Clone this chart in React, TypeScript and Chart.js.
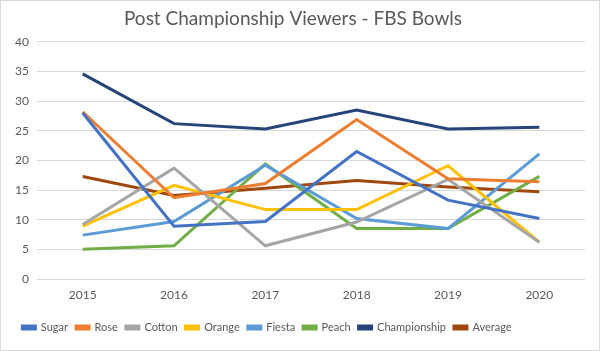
import React, { useEffect, useRef } from "react";
import { Chart, registerables } from "chart.js";

Chart.register(...registerables);

const years = ["2015", "2016", "2017", "2018", "2019", "2020"];
const sugar = [28.0, 8.9, 9.7, 21.5, 13.3, 10.2];
const rose = [28.2, 13.7, 16.1, 26.9, 16.9, 16.4];
const cotton = [9.2, 18.7, 5.6, 9.6, 16.8, 6.2];
const orange = [8.9, 15.8, 11.7, 11.7, 19.1, 6.2];
const fiesta = [7.4, 9.7, 19.2, 10.2, 8.5, 21.1];
const peach = [5.0, 5.6, 19.4, 8.5, 8.5, 17.3];
const championship = [34.6, 26.2, 25.3, 28.5, 25.3, 25.6];
const average = [17.3, 14.1, 15.3, 16.6, 15.5, 14.7];

const seriesNames = ["Sugar", "Rose", "Cotton", "Orange", "Fiesta", "Peach", "Championship", "Average"];
const seriesData = [sugar, rose, cotton, orange, fiesta, peach, championship, average];
const seriesColors = ["#4472C4", "#ED7D31", "#A5A5A5", "#FFC000", "#5B9BD5", "#70AD47", "#264478", "#9E480E"];

const legendShift = {
  id: "legendShift",
  afterLayout(chart: any) {
    if (chart.legend) {
      chart.legend.left -= 26;
      chart.legend.right -= 26;
    }
  },
};

export default function App() {
  const ref = useRef<HTMLCanvasElement>(null);
  useEffect(() => {
    document.body.style.margin = "0";
    const ctx = ref.current!;
    const chart = new Chart(ctx, {
      type: "line",
      data: {
        labels: years,
        datasets: seriesNames.map((n, i) => ({
          label: n,
          data: seriesData[i],
          borderColor: seriesColors[i],
          backgroundColor: seriesColors[i],
          borderWidth: 3,
          pointRadius: 0,
          tension: 0,
        })),
      },
      plugins: [legendShift],
      options: {
        responsive: false,
        animation: false,
        layout: { padding: { left: 0, right: 14, top: 4, bottom: 7 } },
        plugins: {
          title: {
            display: true,
            text: "Post Championship Viewers - FBS Bowls",
            color: "#595959",
            font: { family: "Lato", size: 19, weight: "normal" },
            padding: { top: 2, bottom: 12 },
          },
          legend: {
            position: "bottom",
            labels: {
              color: "#595959",
              font: { family: "Lato", size: 11 },
              boxWidth: 13,
              boxHeight: 3,
              padding: 8,
            },
          },
          tooltip: { enabled: false },
        },
        scales: {
          x: {
            offset: true,
            afterFit: (s: any) => { s.height = 35; },
            grid: { display: false, drawTicks: false },
            border: { display: false },
            ticks: { color: "#595959", font: { family: "Lato", size: 12 }, padding: 9 },
          },
          y: {
            min: 0,
            max: 40,
            afterFit: (s: any) => { s.width = 36; },
            ticks: { stepSize: 5, color: "#595959", font: { family: "Lato", size: 12 }, padding: 8 },
            grid: { color: "#d9d9d9", lineWidth: 1, drawTicks: false },
            border: { display: false },
          },
        },
      },
    });
    return () => chart.destroy();
  }, []);
  return (
    <div style={{ width: 600, height: 351, boxSizing: "border-box", border: "1px solid #d9d9d9", background: "#fff" }}>
      <canvas ref={ref} width={598} height={349} style={{ display: "block" }} />
    </div>
  );
}
